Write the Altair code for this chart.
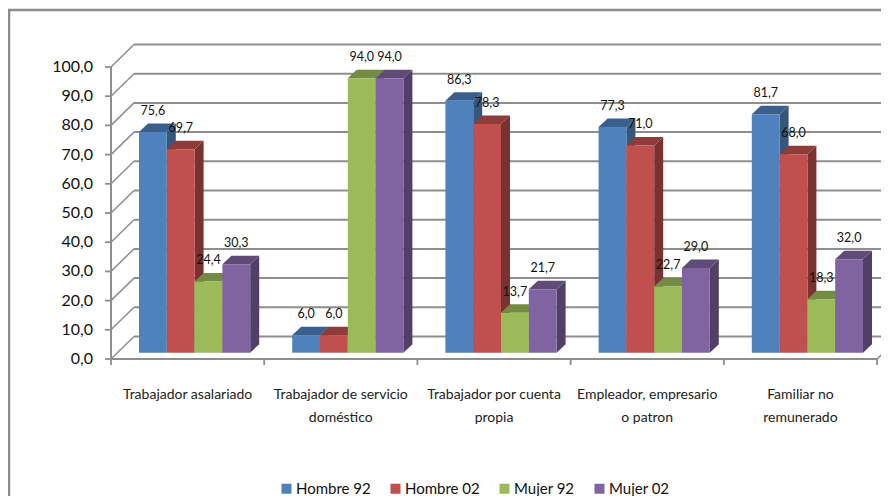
import altair as alt
import pandas as pd

categories = ["Trabajador asalariado", "Trabajador de servicio\ndoméstico",
              "Trabajador por cuenta\npropia", "Empleador, empresario\no patron",
              "Familiar no\nremunerado"]
series = ["Hombre 92", "Hombre 02", "Mujer 92", "Mujer 02"]
values = {
    "Hombre 92": [75.6, 6.0, 86.3, 77.3, 81.7],
    "Hombre 02": [69.7, 6.0, 78.3, 71.0, 68.0],
    "Mujer 92": [24.4, 94.0, 13.7, 22.7, 18.3],
    "Mujer 02": [30.3, 94.0, 21.7, 29.0, 32.0],
}
front_colors = ["#4f81bd", "#c0504d", "#9bbb59", "#8064a2"]
top_colors = ["#3a5f8c", "#8e3b39", "#738b42", "#5f4a78"]
side_colors = ["#365779", "#7a3230", "#64783a", "#523f68"]
y_ticks = [0, 10, 20, 30, 40, 50, 60, 70, 80, 90, 100]
y_labels = ["0,0", "10,0", "20,0", "30,0", "40,0", "50,0", "60,0", "70,0", "80,0", "90,0", "100,0"]

FONT = "Lato"
X0, Y0 = 111.0, 359.0          # pixel origin of the chart's front corner
PX_U = 153.2                   # px per category
PX_V = 2.92                    # px per value unit
CANVAS_W, CANVAS_H = 873, 488
PLOT_TOP = 8.0
plot_w = CANVAS_W + 8 - X0
plot_h = Y0 - PLOT_TOP
x_max = plot_w / PX_U
y_max = plot_h / PX_V

WALL_DX = 23 / PX_U
WALL_DY = 22.5 / PX_V
BAR_START = 28 / PX_U
BAR_W = 27.8 / PX_U
BAR_BASE = 6.3 / PX_V
BAR_DX = 9 / PX_U
BAR_DY = 8.5 / PX_V

x_scale = alt.Scale(domain=[0, x_max], nice=False, zero=False)
y_scale = alt.Scale(domain=[0, y_max], nice=False, zero=False)

fronts, labels, sides, tops = [], [], [], []
for si, s in enumerate(series):
    for ci, v in enumerate(values[s]):
        l = ci + BAR_START + si * BAR_W
        r = l + BAR_W
        b = BAR_BASE
        t = BAR_BASE + v
        fid = f"{si}-{ci}"
        fronts.append(dict(serie=s, l=l, r=r, b=b, t=t))
        labels.append(dict(x=(l + r) / 2, t=t, txt=f"{v:.1f}".replace(".", ",")))
        sides += [dict(id=fid, si=si, x=r, y=b, y2=t),
                  dict(id=fid, si=si, x=r + BAR_DX, y=b + BAR_DY, y2=t + BAR_DY)]
        tops += [dict(id=fid, si=si, x=l, y=t, y2=t),
                 dict(id=fid, si=si, x=l + BAR_DX, y=t, y2=t + BAR_DY),
                 dict(id=fid, si=si, x=r, y=t, y2=t + BAR_DY),
                 dict(id=fid, si=si, x=r + BAR_DX, y=t + BAR_DY, y2=t + BAR_DY)]
fronts = pd.DataFrame(fronts)
labels = pd.DataFrame(labels)
sides = pd.DataFrame(sides)
tops = pd.DataFrame(tops)

GRID = "#8e8e8e"
wall_right = x_max + 1
grid_df = pd.DataFrame([dict(x=WALL_DX, x2=wall_right, y=v + WALL_DY) for v in y_ticks])
diag_df = pd.DataFrame(
    [dict(x=0, x2=WALL_DX, y=v, y2=v + WALL_DY) for v in y_ticks]
    + [dict(x=len(categories), x2=len(categories) + WALL_DX, y=0, y2=WALL_DY)]
)
front_axis = pd.DataFrame([dict(x=0, y=0, y2=100), ])
floor_df = pd.DataFrame([dict(x=0, x2=len(categories), y=0)])
cat_df = pd.DataFrame(dict(x=[i + 0.5 for i in range(5)], txt=categories))
ytick_df = pd.DataFrame(dict(y=y_ticks, txt=y_labels))
xtick_df = pd.DataFrame(dict(x=list(range(len(categories) + 1))))

xs = alt.X("x:Q", scale=x_scale, axis=None)
ys = alt.Y("y:Q", scale=y_scale, axis=None)

frame_v = alt.Chart(pd.DataFrame(dict(a=[0]))).mark_rule(color="#8c8c8c", strokeWidth=2.5).encode(
    x=alt.value(9 - X0), y=alt.value(10 - PLOT_TOP), y2=alt.value(501 - PLOT_TOP))
frame_h = alt.Chart(pd.DataFrame(dict(a=[0]))).mark_rule(color="#8c8c8c", strokeWidth=2.5).encode(
    x=alt.value(8 - X0), x2=alt.value(plot_w), y=alt.value(10 - PLOT_TOP))

grid = alt.Chart(grid_df).mark_rule(color=GRID, strokeWidth=2).encode(x=xs, x2="x2:Q", y=ys)
diag = alt.Chart(diag_df).mark_rule(color=GRID, strokeWidth=1.5).encode(x=xs, x2="x2:Q", y=ys, y2="y2:Q")
vaxis = alt.Chart(front_axis).mark_rule(color=GRID, strokeWidth=2).encode(x=xs, y=ys, y2="y2:Q")
floor = alt.Chart(floor_df).mark_rule(color=GRID, strokeWidth=2).encode(x=xs, x2="x2:Q", y=ys)
yticks = alt.Chart(ytick_df).mark_rule(color=GRID, strokeWidth=1.8).encode(
    x=alt.value(-6), x2=alt.value(0), y=ys)
xticks = alt.Chart(xtick_df).mark_rule(color=GRID, strokeWidth=1.8).encode(
    x=xs, y=alt.value(plot_h), y2=alt.value(plot_h + 6))
ylabels = alt.Chart(ytick_df).mark_text(font=FONT, fontSize=16, color="#111111", align="right",
                                        baseline="middle").encode(
    x=alt.value(-18), y=ys, text="txt:N")

face_layers = []
for si in range(4):
    face_layers.append(alt.Chart(sides[sides.si == si]).mark_area(color=side_colors[si], interpolate="linear")
                       .encode(x=xs, y=ys, y2="y2:Q", detail="id:N"))
    face_layers.append(alt.Chart(tops[tops.si == si]).mark_area(color=top_colors[si], interpolate="linear")
                       .encode(x=xs, y=ys, y2="y2:Q", detail="id:N"))

front = alt.Chart(fronts).mark_rect().encode(
    x=alt.X("l:Q", scale=x_scale, axis=None), x2="r:Q",
    y=alt.Y("b:Q", scale=y_scale, axis=None), y2="t:Q",
    color=alt.Color("serie:N", sort=series,
                    scale=alt.Scale(domain=series, range=front_colors),
                    legend=alt.Legend(orient="none", legendX=168, legendY=481 - PLOT_TOP,
                                      direction="horizontal", columns=4, title=None,
                                      symbolType="square", symbolSize=100, symbolStrokeWidth=0,
                                      labelFont=FONT, labelFontSize=15, labelColor="#111111",
                                      labelOffset=2, columnPadding=17)),
)

val_text = alt.Chart(labels).mark_text(font=FONT, fontSize=12.5, color="#111111", dy=-21).encode(
    x=alt.X("x:Q", scale=x_scale, axis=None), y=alt.Y("t:Q", scale=y_scale, axis=None), text="txt:N")
cat_text = alt.Chart(cat_df).mark_text(font=FONT, fontSize=14, color="#222222", lineBreak="\n",
                                       lineHeight=23, baseline="top").encode(
    x=alt.X("x:Q", scale=x_scale, axis=None), y=alt.value(388 - PLOT_TOP), text="txt:N")

chart = alt.layer(frame_v, frame_h, grid, diag, vaxis, floor, yticks, xticks, ylabels,
                  *face_layers, front, val_text, cat_text).properties(
    width=plot_w, height=plot_h,
    padding={"left": X0 - 8, "top": PLOT_TOP - 8, "right": 0, "bottom": CANVAS_H - (Y0 - 8)},
    autosize=alt.AutoSizeParams(type="none"),
    background="white",
).configure_view(stroke=None)

chart.save("out.html", embed_options={"renderer": "svg", "actions": False})
